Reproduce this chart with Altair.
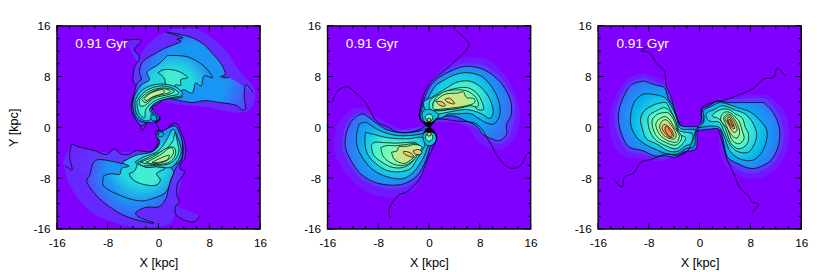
import altair as alt
import pandas as pd
import math

FONT = "Liberation Sans"
PURPLE = "#7f00ff"
AGE_LABEL = "0.91 Gyr"
MAJOR = [-16, -8, 0, 8, 16]
MINOR = [-14, -12, -10, -6, -4, -2, 2, 4, 6, 10, 12, 14]

# ---------- panel 1, upper arm (kpc) ----------
P1_HAZE_U = [(1.95,15.4),(6.4,15.3),(10.5,12.2),(12.6,9.1),(15.2,5.7),(14.2,2.6),(6.4,3.3),(0.1,4.2),(-3,6.1),(-3.3,9.6),(-2,12.7),(0.1,14.5)]
P1_A_U = [(-5.3,13.7),(-2.7,13.7),(-3.8,12.2),(-3.0,11.1),(-3.8,9.3),(-3.9,7.0),(-2.9,6.2),(-3.9,5.0),(-4.3,3.3),(-4.0,2.0),(-3.0,0.5),(-2.5,-0.5),(-1.9,0.5),(-0.9,1.3),(-0.4,0.7),(0.3,1.4),(-0.6,2.2),(-1.0,3.2),(0.2,4.0)]
P1_B_U = [(14.9,5.5),(13.8,6.7),(13.5,4.9),(13.7,2.8),(13.1,2.8),(12.4,3.4),(9.8,3.9),(7.2,4.2),(5.3,3.9),(2.5,4.4),(0.9,4.55),(0.2,3.9),(-1.0,3.1),(-0.5,2.3),(0.2,1.5),(-0.3,0.9),(-0.9,1.4),(-1.8,1.0),(-2.6,0.2),(-4.0,2.1),(-4.2,3.4),(-3.8,5.4),(-3.3,7.0),(-2.7,7.5),(-3.0,8.8),(-2.5,10.3),(-0.9,11.4),(0.9,12.4),(3.6,13.6),(2.9,13.9),(3.9,14.1),(1.2,15.0),(3.5,14.6),(5.6,14.0),(7.2,13.0),(8.7,11.4),(9.8,10.1),(10.5,8.3),(9.8,8.0),(10.7,7.8),(11.2,7.9)]
P1_C_U = [(1.4,11.3),(4.6,11.1),(7.2,9.6),(8.5,7.8),(7.2,8.1),(6.7,6.5),(5.9,7.0),(5.3,5.4),(4.0,5.9),(3.2,5.4),(3.8,4.8),(1.9,4.55),(-0.1,4.0),(-1.2,3.1),(-0.7,2.0),(0.1,1.3),(-0.9,0.8),(-2.2,0.8),(-3.3,1.3),(-4.0,3.1),(-3.8,4.9),(-2.7,6.7),(-1.4,7.5),(-1.8,8.6),(0.1,10.0),(1.4,11.3)]
P1_D_U = [(-0.1,8.6),(0.9,9.1),(3.2,8.8),(4.6,7.8),(3.5,7.5),(3.5,6.6),(2.7,6.7),(2.5,6.0),(1.2,6.7),(0.9,7.8),(-0.1,8.6)]
P1_E1_U = [(-3.7,4.1),(-3.0,5.4),(-1.4,6.5),(0.9,6.8),(3.0,6.2),(3.8,5.1),(1.9,4.65),(-0.4,3.9),(-1.4,2.8),(-0.9,1.8),(-1.7,1.0),(-2.7,1.3),(-3.5,2.3),(-3.7,4.1)]
P1_E2_U = [(-3.4,4.0),(-2.7,5.1),(-1.3,6.1),(0.9,6.5),(2.7,5.9),(3.2,5.3),(1.7,4.9),(-0.7,4.1),(-2.0,2.8),(-2.2,1.5),(-3.0,2.1),(-3.4,4.0)]
P1_E3_U = [(-3.0,4.4),(-1.4,5.7),(0.9,6.2),(2.5,5.7),(1.7,5.2),(-0.7,4.6),(-2.2,3.4),(-2.9,3.4),(-3.0,4.4)]
P1_E4_U = [(-2.6,4.4),(-1.4,5.4),(0.8,6.1),(1.9,5.6),(-0.7,4.8),(-2.1,3.9),(-2.6,4.4)]
P1_E5_U = [(-2.2,4.55),(-1.2,5.4),(0.8,5.9),(0.9,5.5),(-0.9,4.8),(-2.0,4.2),(-2.2,4.55)]
P1_SPOT_U = [(-1.2,2.0),(-0.4,1.8),(-0.4,1.0),(-1.1,1.2),(-1.2,2.0)]
# ---------- panel 1, lower arm ----------
P1_HAZE_L = [(-15.0,-5.5),(-14.0,-9),(-11,-13),(-7,-15),(-2,-15.8),(2,-15),(3,-11),(3.5,-7),(0,-4),(-8,-4),(-14,-3)]
P1_A_L = [(-14.7,-6.0),(-13.6,-6.7),(-14.0,-4.7),(-13.6,-2.7),(-12.8,-3.0),(-12.1,-3.2),(-10.0,-3.7),(-8.2,-4.3),(-6.9,-3.4),(-6.1,-4.1),(-4.8,-4.3),(-3.5,-3.7),(-1.1,-3.8),(-0.1,-2.6),(-0.3,-1.3),(-0.6,-0.7),(0.1,-0.5),(0.9,-0.6),(2.0,0.4),(2.8,0.6),(3.7,-1.1),(4.2,-2.6),(4.2,-4.7),(3.4,-6.0),(3.4,-6.5),(4.1,-7.0),(3.0,-8.9),(2.9,-10.7),(3.3,-11.7),(2.7,-12.5),(2.8,-13.8),(5.6,-14.9),(6.6,-13.8)]
P1_B_L = [(-10.8,-7.6),(-10.2,-5.5),(-9.5,-5.1),(-6.6,-5.5),(-5.6,-5.7),(-5.3,-5.2),(-4.3,-5.3),(-3.5,-4.7),(-1.1,-4.0),(0.2,-2.4),(0.4,-1.3),(2.0,0.1),(2.5,0.2),(3.6,-1.8),(3.9,-3.7),(3.6,-5.2),(2.7,-6.5),(1.7,-9.1),(1.2,-11.2),(0.1,-12.5),(-2.0,-12.6),(-3.6,-13.5),(-3.3,-14.0),(-0.7,-15.1),(-3.0,-14.7),(-5.6,-13.8),(-7.7,-12.5),(-9.8,-10.7),(-11.3,-8.4),(-10.8,-7.6)]
P1_C_L = [(-8.6,-7.6),(-7.4,-7.3),(-6.1,-7.4),(-5.8,-6.5),(-4.6,-6.1),(-5.6,-5.6),(-4.8,-5.0),(-3.5,-4.4),(-1.1,-3.9),(-0.1,-3.1),(0.2,-2.1),(-0.3,-1.3),(0.7,-0.6),(2.0,0.1),(2.6,0.2),(3.6,-1.6),(3.8,-3.4),(3.6,-5.0),(2.5,-6.0),(2.0,-6.3),(2.4,-7.0),(2.0,-8.1),(1.2,-10.2),(-0.3,-11.0),(-2.7,-11.6),(-6.1,-10.7),(-8.7,-9.1),(-8.6,-7.6)]
P1_D_L = [(-4.6,-7.3),(-4.2,-8.1),(-2.7,-8.9),(-0.3,-9.1),(0.3,-8.3),(-0.3,-7.3),(1.0,-6.5),(-0.3,-6.2),(-1.9,-6.3),(-3.2,-5.7),(-3.7,-6.8),(-4.6,-7.3)]
P1_E1_L = [(-3.7,-5.5),(-2.4,-4.7),(-0.3,-3.9),(0.7,-2.9),(1.5,-1.6),(2.3,-0.3),(3.2,-2.1),(3.6,-3.7),(3.2,-5.0),(2.0,-6.3),(-0.3,-6.2),(-1.9,-6.3),(-3.7,-5.5)]
P1_E2_L = [(-3.2,-5.5),(-0.9,-4.4),(1.2,-3.4),(2.3,-2.1),(2.6,-0.8),(3.0,-2.4),(3.2,-3.9),(2.5,-5.2),(1.5,-5.8),(-0.9,-6.0),(-2.7,-6.0),(-3.2,-5.5)]
P1_E3_L = [(-2.9,-5.5),(-0.9,-4.7),(1.5,-3.2),(2.5,-3.2),(2.7,-4.2),(2.0,-5.3),(0.7,-5.8),(-1.4,-5.8),(-2.9,-5.5)]
P1_E4_L = [(-1.9,-5.5),(0.2,-4.4),(2.0,-3.2),(2.4,-3.9),(1.7,-5.0),(0.4,-5.6),(-1.1,-5.7),(-1.9,-5.5)]
P1_E5_L = [(-1.0,-5.5),(0.7,-4.7),(1.7,-4.4),(1.5,-5.0),(0.2,-5.5),(-1.0,-5.5)]
P1_SPOT_L = [(0.1,-0.7),(0.8,-0.9),(0.7,-1.4),(0,-1.4),(0.1,-0.7)]
P1_LINK = [(0.1,1.4),(-0.4,0.7),(0.1,-0.2),(-0.4,-1.1)]

# ---------- panel 2 ----------
P2_OPEN_U = [(4.1,15.3),(6.3,13.2),(5.9,12.2),(2.8,9.3),(0.2,7.0),(-0.9,4.9),(-1.4,2.8),(-1.5,1.5),(0,0.1),(1.2,1.2),(4.3,1.0),(7.5,0.5),(9.6,-2.4),(11.1,-5),(12.7,-6.4),(14.2,-6.2),(15.3,-4.4)]
P2_OPEN_L = [(-15.2,4.1),(-14.4,5.7),(-12.9,6.4),(-11.5,5.4),(-10,3.9),(-9.0,2.1),(-8.1,0.8),(-6.6,0.1),(-4.8,-0.8),(-2.9,-0.8),(-1.4,-0.3),(-0.6,0.2),(0.1,0.1),(1.2,-1.3),(1,-2.4),(-0.1,-4.7),(-0.9,-6.8),(-1.6,-8.3),(-3.5,-10.2),(-4.8,-10.7),(-6.3,-13),(-6.1,-14.3)]
P2_H1_U = [(-1,4),(0.5,7.5),(3,10),(6,11),(9.5,10.5),(12.5,7.5),(14,4),(14.3,1),(13.3,-2),(11,-3.5),(8,-2.5),(6,0),(2,1),(0,0)]
P2_H2_U = [(-0.8,4.9),(0.1,7),(1.5,8.3),(3.3,9.4),(5.7,10.1),(8.4,9.8),(10.7,8.5),(12.4,6.4),(13.5,3.9),(13.5,1.7),(12.7,-1.2),(11.2,-2.6),(9.6,-2.2),(7.5,-0.3),(5,0.7),(1,1),(-1,1.5)]
P2_C1_U = [(-0.6,4.9),(0.2,6.5),(1.5,7.8),(3.3,8.8),(5.7,9.6),(8.3,9.2),(10.3,8.0),(11.9,6.2),(12.9,3.9),(12.9,1.8),(12.2,0.5),(12.2,-1.1),(11.1,-2.1),(9.8,-1.8),(8.5,-1.1),(7.5,0.2),(5.9,1.0),(3.8,1.8),(2.3,1.7),(1.2,1.3),(0.1,0.2),(-1.4,1.4),(-1.4,2.6),(-0.9,3.9),(-0.6,4.9)]
P2_C2_U = [(0,4.9),(1.0,6.5),(2.5,7.5),(4.1,8.3),(6.2,8.6),(8.3,8.0),(9.8,6.5),(10.9,4.4),(11.2,2.6),(10.9,1.3),(10.1,0.5),(8.8,0.8),(7.7,1.5),(6.7,2.1),(5.4,2.2),(4.4,2.1),(3.1,2.1),(2.0,1.5),(1.2,1.4),(0.2,0.3),(-1.3,1.4),(-1.2,2.6),(-0.6,3.9),(0,4.9)]
P2_C3_U = [(0.4,4.7),(1.5,5.4),(2.8,6.2),(4.4,7.1),(6.2,7.3),(7.7,6.7),(9.0,5.4),(9.8,3.9),(10.1,2.3),(9.6,1.4),(8.3,2.1),(7.0,2.6),(5.7,2.8),(4.1,2.6),(3.1,2.4),(1.5,2.1),(0,2.1),(-0.9,3.9),(0.4,4.7)]
P2_C4_U = [(1.7,5.2),(3.3,5.9),(4.6,6.2),(6.2,6.2),(7.5,5.4),(8.3,4.1),(8.6,2.8),(7.7,2.8),(7.0,3.4),(5.9,3.4),(4.6,3.0),(3.1,2.8),(1.5,2.6),(0.2,2.8),(0.1,4.1),(1.0,4.9),(1.7,5.2)]
P2_C45_U = [(1.0,4.6),(2.4,5.6),(4.6,5.9),(6,5.7),(7.3,4.8),(7.8,3.6),(7.6,3.2),(6.6,3.4),(5.2,3.1),(3,2.8),(1,2.8),(0.6,3.6),(1.0,4.6)]
P2_C5_U = [(0.7,3.9),(2.5,5.2),(4.6,5.4),(5.4,5.6),(5.9,4.7),(7.1,4.5),(7.2,3.9),(5.9,3.4),(4.1,3.1),(2.3,2.9),(0.7,2.9),(0.7,3.9)]
P2_O1_U = [(1.1,4.1),(2.0,4.0),(2.6,3.5),(2.3,3.3),(1.5,3.6),(1.1,4.1)]
P2_O2_U = [(2.5,4.4),(3.2,4.6),(3.9,4.0),(4.0,3.7),(3.3,3.8),(2.7,4.1),(2.5,4.4)]
P2_HUMP1_U = [(-1.1,1.8),(-0.9,2.6),(0.2,2.8),(1.2,2.3),(1.5,1.8),(0.7,1.0),(0,0.2),(-0.8,1),(-1.1,1.8)]
P2_HUMP2_U = [(-0.6,1.7),(0,2.1),(0.6,1.7),(0.3,1),(-0.3,1),(-0.6,1.7)]
P2_HUMP3_U = [(-0.2,1.4),(0.2,1.4),(0.2,0.9),(-0.2,0.9),(-0.2,1.4)]
P2_TIP_U = [(-0.8,0.9),(0,0.05),(0.8,0.9),(0.3,0.75),(0,0.85),(-0.3,0.75)]
P2_H1_L = [(-12,3),(-14,1),(-15,-2),(-14.5,-5),(-12.5,-8),(-9,-10.5),(-5.5,-11),(-2.5,-10),(-0.5,-6),(0.5,-3),(0,0),(-4,-0.3),(-8,1.5),(-10,3)]
P2_H2_L = [(-11.2,2.3),(-12.7,1),(-13.6,-1.4),(-13.6,-3.5),(-12.4,-6),(-11,-7.8),(-8.8,-9.1),(-6,-9.7),(-3.8,-9.4),(-1.8,-8.2),(-0.7,-6.5),(0.2,-3.2),(0,0),(-4.8,-0.4),(-8,0.8),(-9.5,2)]
P2_C1_L = [(-11.3,1.8),(-12.3,0.8),(-13.1,-1.3),(-13.1,-3.4),(-12.0,-5.7),(-10.8,-7.3),(-8.7,-8.6),(-6.1,-9.1),(-4.0,-8.9),(-2.1,-7.8),(-1.1,-6.5),(-0.3,-4.7),(0.2,-3.1),(1.1,-2.1),(1.1,-1.2),(0,-0.1),(-0.6,-0.3),(-1.6,-0.6),(-3.2,-0.8),(-4.8,-0.8),(-6.6,-0.4),(-8.1,0.5),(-9.4,1.5),(-10.5,2.1),(-11.3,1.8)]
P2_C2_L = [(-11,0.5),(-11.4,-1.1),(-11.3,-3.1),(-10.2,-5.2),(-8.7,-6.8),(-6.6,-7.8),(-4.2,-8.1),(-2.7,-7.3),(-1.4,-5.7),(-0.6,-4.2),(-0.1,-2.9),(0.9,-2.1),(0.9,-1.3),(-0.1,-0.8),(-1.4,-1.1),(-3.2,-1.3),(-5,-1.3),(-7.1,-0.8),(-8.7,0),(-10,0.8),(-11,0.5)]
P2_C3_L = [(-10,-0.8),(-10.1,-2.4),(-9.7,-4.2),(-8.4,-5.7),(-6.6,-6.8),(-4.5,-7),(-2.9,-6.5),(-2.2,-5.5),(-1.1,-3.7),(-0.6,-2.4),(-1.1,-1.6),(-3.2,-1.8),(-5,-1.8),(-6.8,-1.6),(-8.7,-1.1),(-10,-0.8)]
P2_C4_L = [(-9.1,-2.9),(-8.7,-4.4),(-7.4,-5.5),(-5.8,-6.3),(-4,-6.3),(-2.7,-5.5),(-1.9,-4.2),(-1.4,-3.1),(-2.2,-2.4),(-3.7,-2.4),(-5.3,-2.5),(-7.1,-2.4),(-8.7,-2.4),(-9.1,-2.9)]
P2_C45_L = [(-7.6,-3.2),(-7.2,-4.6),(-5.8,-5.7),(-4,-6),(-2.5,-5.2),(-1.6,-4),(-1.3,-3.1),(-2.2,-2.6),(-3.6,-2.7),(-5.2,-2.9),(-6.8,-2.9),(-7.6,-3.2)]
P2_C5_L = [(-5.9,-3.9),(-5.5,-5),(-4,-5.7),(-2.7,-5),(-1.6,-3.9),(-1.1,-3.1),(-2.2,-2.7),(-3.5,-3),(-4.8,-3.1),(-5,-3.7),(-5.9,-3.9)]
P2_O1_L = [(-4,-3.8),(-3.2,-3.9),(-2.5,-4.4),(-2.5,-4.7),(-3.3,-4.5),(-4,-4.1),(-4,-3.8)]
P2_O2_L = [(-2.5,-3.7),(-1.6,-3.5),(-1.1,-4),(-1.6,-4.3),(-2.3,-4.1),(-2.5,-3.7)]
P2_HUMP1_L = [(-1,-1.3),(0,-0.3),(1,-1.2),(1.1,-2.1),(0.2,-2.9),(-0.6,-2.6),(-1,-1.3)]
P2_HUMP2_L = [(-0.5,-1.2),(0.5,-1.2),(0.5,-1.9),(0,-2.2),(-0.5,-1.9),(-0.5,-1.2)]
P2_HUMP3_L = [(-0.25,-0.8),(0.25,-0.8),(0.25,-1.3),(-0.25,-1.3),(-0.25,-0.8)]
P2_TIP_L = [(-0.9,-0.9),(0,-0.05),(0.9,-0.9),(0.3,-0.75),(0,-0.85),(-0.3,-0.75)]

# ---------- panel 3 ----------
P3_OPEN_LT = [(-8.2,12.7),(-9.2,12),(-7.9,11.8),(-6.8,10.1),(-5.5,8.8),(-5.3,6.7),(-4.4,4.6),(-3.9,2.3),(-3,0.2)]
P3_OPEN_LB = [(-13.6,-8.1),(-12.2,-9.4),(-11.8,-7.8),(-10.5,-7.3),(-9.2,-5.5),(-7.4,-5),(-5.3,-4.2),(-3.5,-4.4),(-1.9,-3.7),(-0.6,-0.8),(0,0)]
P3_OPEN_RT = [(13.6,8),(12.2,9.3),(11.7,7.9),(10.1,7.6),(8.5,6.2),(6.4,5.2),(4.3,4.4),(2.3,4),(0.4,3.1),(0.3,1.8),(0.7,1),(0,0)]
P3_OPEN_RB = [(8.2,-13.5),(9.3,-12.1),(8.3,-11.8),(7.7,-10.8),(6.4,-9.6),(5.4,-7.3),(4.3,-5),(3.6,-2.4),(3,-0.5)]
P3_H1_L = [(-9,8.5),(-11.5,7.5),(-13.2,5),(-14.2,1.5),(-13.8,-2),(-12.5,-4.2),(-9,-5),(-5,-5),(-3,-1),(-4,4),(-5.5,7.5)]
P3_H2_L = [(-8.7,7.9),(-11,7.1),(-12.5,4.9),(-13.3,2.6),(-13.3,0.5),(-12.5,-2),(-11.4,-3.6),(-8.9,-4.3),(-5,-4.8),(-3.5,-1),(-4,3.5),(-5.2,6.5)]
P3_1_L = [(-8.7,7.3),(-10.7,6.7),(-12,4.7),(-12.7,2.6),(-12.7,0.5),(-12,-1.8),(-11.1,-3.1),(-8.9,-3.7),(-7.1,-4.5),(-5.2,-4.5),(-3.7,-4.7),(-2.5,-3.9),(-0.6,-3.4),(-0.4,-0.8),(-0.2,-0.3),(-0.2,0),(-3,0.3),(-3.5,1.5),(-4.2,3.4),(-5,4.6),(-5.5,6.2),(-7.1,6.7),(-8.7,7.3)]
P3_2_L = [(-7.4,5.2),(-8.9,5.2),(-10.2,4.1),(-10.8,2.3),(-10.8,0.2),(-9.9,-1.6),(-8.7,-2.6),(-7.1,-3.4),(-5,-4.2),(-3.5,-4.2),(-2.2,-3.4),(-0.9,-3),(-0.7,-0.8),(-0.6,-0.4),(-2.7,-0.3),(-3.2,0),(-3.7,1.8),(-4.5,3.4),(-5.5,4.7),(-7.4,5.2)]
P3_3_L = [(-7.1,3.6),(-8.7,2.6),(-9.3,1.3),(-9,-0.3),(-8.4,-1.8),(-6.8,-2.6),(-5,-3.7),(-3.5,-3.8),(-2.2,-2.9),(-1.4,-2.6),(-1.1,-1.1),(-2.7,-0.7),(-3.2,-0.5),(-4,1.5),(-4.8,3.1),(-5.3,3.9),(-7.1,3.6)]
P3_4_L = [(-6.8,2.6),(-8,1.8),(-8.1,0.5),(-7.6,-1.1),(-6.8,-2.1),(-5.3,-2.9),(-3.7,-3.4),(-2.7,-2.6),(-2.2,-1.6),(-3.2,-1.1),(-3.7,0.8),(-4.5,2.3),(-5.5,3.1),(-6.8,2.6)]
P3_5_L = [(-6.6,2.1),(-7.4,1.3),(-7.4,0),(-6.6,-1.6),(-5.3,-2.4),(-3.7,-2.8),(-2.8,-1.6),(-3.6,-0.3),(-4,1),(-5,2.3),(-6.6,2.1)]
P3_6_L = [(-6.4,1.3),(-6.9,0.5),(-6.3,-1.1),(-5,-2.1),(-3.6,-2.3),(-3.2,-1.3),(-4,0),(-4.8,1.3),(-5.5,1.7),(-6.4,1.3)]
P3_7_L = [(-5.9,1),(-6.3,0.2),(-5.8,-1.1),(-4.6,-1.8),(-3.9,-1.8),(-3.7,-1.1),(-4.6,0.5),(-5.3,1.2),(-5.9,1)]
P3_8_L = [(-5.6,0.5),(-5.9,0),(-5.5,-0.9),(-4.6,-1.6),(-4.1,-1.5),(-4.2,-0.8),(-5,0.2),(-5.6,0.5)]
P3_9_L = [(-5.4,0.1),(-5.4,-0.5),(-4.6,-1.5),(-4.3,-1.2),(-4.8,-0.3),(-5.1,0.1),(-5.4,0.1)]
P3_H1_R = [(7,5),(10.5,5),(13,3),(14,0),(13.9,-3),(12.5,-6),(9.5,-8),(6,-7.5),(3.5,-5),(3,0),(3,4)]
P3_H2_R = [(7.2,4.5),(10.3,4.5),(12.2,2.5),(13.2,-0.3),(13,-3),(12.1,-5),(11,-6.2),(8.3,-7.2),(5.7,-6.4),(4,-4),(3.5,1),(3,4.4)]
P3_1_R = [(10.1,3.9),(11.6,2.3),(12.6,-0.3),(12.4,-2.9),(11.6,-4.7),(10.6,-5.7),(8.3,-6.5),(6,-5.7),(4.4,-4.7),(3.8,-2.4),(3.1,-0.3),(1.5,-0.3),(-0.6,-0.4),(0.2,0.5),(0.4,2.8),(1.5,3.4),(2.8,4.1),(4.6,3.9),(7.2,3.9),(10.1,3.9)]
P3_2_R = [(5.9,3.1),(8,2.4),(9.6,1),(10.6,-0.5),(10.4,-2.6),(9.6,-4.2),(8.3,-5.2),(6.4,-5),(4.9,-3.9),(3.8,-1.3),(3.1,0),(1.5,0.2),(-0.2,0),(0.7,1.3),(0.6,2.6),(2,3.4),(3.3,3.9),(5.9,3.1)]
P3_3_R = [(5.6,2.7),(7.2,2.1),(8.5,0.5),(9,-1.3),(8.5,-2.9),(7.7,-3.9),(6.2,-3.9),(4.9,-2.9),(3.8,-0.5),(3.1,0.8),(1.5,1),(1,2.1),(2.3,2.8),(3.6,3.4),(5.6,2.7)]
P3_4_R = [(5.6,2.1),(6.7,1.5),(7.2,0),(7.7,-1),(7.5,-2.6),(6.2,-3.4),(5,-2.6),(4.1,-0.3),(3.1,1.3),(2,1.8),(3.3,2.8),(4.6,2.8),(5.6,2.1)]
P3_5_R = [(5.4,1.8),(6.2,1),(6.7,-0.5),(7,-1.8),(6.2,-2.6),(5.2,-2.1),(4.4,-0.3),(3.3,1.3),(3.8,2.3),(4.6,2.4),(5.4,1.8)]
P3_6_R = [(5.1,1.8),(5.8,0.8),(6.3,-0.8),(5.9,-1.7),(5.1,-1.3),(4.2,0.3),(3.8,1.5),(4.4,2.1),(5.1,1.8)]
P3_7_R = [(4.9,1.7),(5.5,0.8),(5.9,-0.5),(5.4,-0.8),(4.5,0.5),(4,1.4),(4.4,1.8),(4.9,1.7)]
P3_8_R = [(4.8,1.5),(5.2,0.8),(5.5,-0.2),(5,0),(4.4,1),(4.4,1.5),(4.8,1.5)]
P3_9_R = [(4.7,1.3),(5.1,0.5),(5.3,0.1),(4.9,0.4),(4.5,1),(4.7,1.3)]

# (contour, colour level at its edge, colour level towards its middle, outlined?)
PANEL1 = [(P1_HAZE_U,.05,.05,0),(P1_HAZE_L,.05,.05,0),(P1_A_U,.04,.07,1),(P1_A_L,.04,.07,1),(P1_B_U,.09,.2,1),(P1_B_L,.09,.2,1),
          (P1_C_U,.19,.32,1),(P1_C_L,.19,.32,1),(P1_D_U,.32,.38,1),(P1_D_L,.32,.38,1),(P1_E1_U,.3,.36,1),(P1_E1_L,.3,.36,1),(P1_E2_U,.37,.41,1),(P1_E2_L,.37,.41,1),
          (P1_E3_U,.43,.47,1),(P1_E3_L,.43,.47,1),(P1_E4_U,.51,.53,1),(P1_E4_L,.51,.53,1),(P1_E5_U,.59,.61,1),(P1_E5_L,.59,.61,1),(P1_SPOT_U,.25,.25,1),(P1_SPOT_L,.25,.25,1)]
PANEL2 = [(P2_H1_U,.03,.03,0),(P2_H2_U,.07,.07,0),(P2_H1_L,.03,.03,0),(P2_H2_L,.07,.07,0),
          (P2_C1_U,.14,.22,1),(P2_C2_U,.21,.3,1),(P2_C3_U,.29,.38,1),(P2_C4_U,.38,.44,1),(P2_C45_U,.44,.5,1),(P2_C5_U,.52,.64,1),(P2_O1_U,.72,.72,1),(P2_O2_U,.72,.72,1),
          (P2_C1_L,.14,.22,1),(P2_C2_L,.21,.3,1),(P2_C3_L,.29,.38,1),(P2_C4_L,.38,.44,1),(P2_C45_L,.44,.5,1),(P2_C5_L,.52,.64,1),(P2_O1_L,.72,.72,1),(P2_O2_L,.72,.72,1),
          (P2_HUMP1_U,.28,.28,1),(P2_HUMP2_U,.45,.45,1),(P2_HUMP3_U,.75,.75,1),(P2_HUMP1_L,.28,.28,1),(P2_HUMP2_L,.45,.45,1),(P2_HUMP3_L,.75,.75,1),
          (P2_TIP_U,None,None,1),(P2_TIP_L,None,None,1)]
PANEL3 = [(P3_H1_L,.03,.03,0),(P3_H2_L,.07,.07,0),(P3_H1_R,.03,.03,0),(P3_H2_R,.07,.07,0),
          (P3_1_L,.15,.24,1),(P3_2_L,.24,.32,1),(P3_3_L,.32,.4,1),(P3_4_L,.4,.47,1),(P3_5_L,.47,.54,1),(P3_6_L,.54,.6,1),(P3_7_L,.6,.68,1),(P3_8_L,.68,.78,1),(P3_9_L,.78,.82,1),
          (P3_1_R,.15,.24,1),(P3_2_R,.24,.32,1),(P3_3_R,.32,.4,1),(P3_4_R,.4,.47,1),(P3_5_R,.47,.54,1),(P3_6_R,.54,.6,1),(P3_7_R,.6,.68,1),(P3_8_R,.68,.78,1),(P3_9_R,.78,.82,1)]
OPEN1 = [P1_LINK]
OPEN2 = [P2_OPEN_U, P2_OPEN_L]
OPEN3 = [P3_OPEN_LT, P3_OPEN_LB, P3_OPEN_RT, P3_OPEN_RB]

SIZE = 208
LINE = 0.75
scale = alt.Scale(domain=[-16, 16], nice=False, zero=False)


def rainbow(t):
    if t is None:
        return "#000000"
    r = abs(2 * t - 0.5)
    g = math.sin(math.pi * t)
    b = math.cos(math.pi * t / 2)
    return "#%02x%02x%02x" % tuple(int(round(255 * min(1, v))) for v in (r, g, b))


def paint(edge, middle):
    if edge == middle:
        return rainbow(edge)
    return alt.RadialGradient(gradient="radial", stops=[
        alt.GradientStop(offset=0, color=rainbow(middle)),
        alt.GradientStop(offset=0.55, color=rainbow(middle)),
        alt.GradientStop(offset=1, color=rainbow(edge)),
    ])


def frame(pts):
    return pd.DataFrame({"x": [p[0] for p in pts], "y": [p[1] for p in pts], "i": range(len(pts))})


def panel(polys, opens, ylabel):
    ax = alt.Axis(values=MAJOR, title="X [kpc]", grid=False, tickSize=0, domain=False,
                  labelExpr="''+datum.value", labelFontSize=12, labelPadding=9, titleFontSize=13, titlePadding=8,
                  labelFont=FONT, titleFont=FONT, titleFontWeight="normal", labelColor="#000", titleColor="#000", labelFlush=False)
    ay = alt.Axis(values=MAJOR, title="Y [kpc]" if ylabel else None, grid=False, tickSize=0, domain=False,
                  labelExpr="''+datum.value", labelFontSize=12, labelPadding=7, titleFontSize=13, titlePadding=13,
                  labelFont=FONT, titleFont=FONT, titleFontWeight="normal", labelColor="#000", titleColor="#000", labelFlush=False)
    X = alt.X("x:Q", scale=scale, axis=ax)
    Y = alt.Y("y:Q", scale=scale, axis=ay)
    layers = []
    for pts, edge, middle, outlined in polys:
        kw = dict(fill=paint(edge, middle), strokeWidth=LINE if outlined else 0, stroke="black" if outlined else rainbow(edge),
                  interpolate="catmull-rom")
        layers.append(alt.Chart(frame(pts)).mark_line(**kw).encode(x=X, y=Y, order="i:Q"))
    for pts in opens:
        layers.append(alt.Chart(frame(pts)).mark_line(color="black", strokeWidth=LINE, interpolate="catmull-rom").encode(x=X, y=Y, order="i:Q"))
    for values, length in ((MAJOR, 6), (MINOR, 3)):
        df = pd.DataFrame({"x": values, "y": values})
        for a, b in ((0, length), (SIZE, SIZE - length)):
            layers.append(alt.Chart(df).mark_rule(color="black", strokeWidth=1).encode(x=X, y=alt.value(a), y2=alt.value(b)))
            layers.append(alt.Chart(df).mark_rule(color="black", strokeWidth=1).encode(y=Y, x=alt.value(a), x2=alt.value(b)))
    label = pd.DataFrame({"x": [-13.1], "y": [13.1], "t": [AGE_LABEL]})
    layers.append(alt.Chart(label).mark_text(align="left", baseline="middle", color="white", font=FONT, fontSize=14).encode(x=X, y=Y, text="t:N"))
    return alt.layer(*layers).properties(width=SIZE, height=SIZE)


chart = alt.hconcat(panel(PANEL1, OPEN1, True), panel(PANEL2, OPEN2, False), panel(PANEL3, OPEN3, False), spacing=35).properties(
    padding={"left": -2, "top": 8, "right": 0, "bottom": 0}
).configure_view(fill=PURPLE, stroke="black", strokeWidth=1.4)

chart.save("out.html", embed_options={"renderer": "svg", "actions": False})
